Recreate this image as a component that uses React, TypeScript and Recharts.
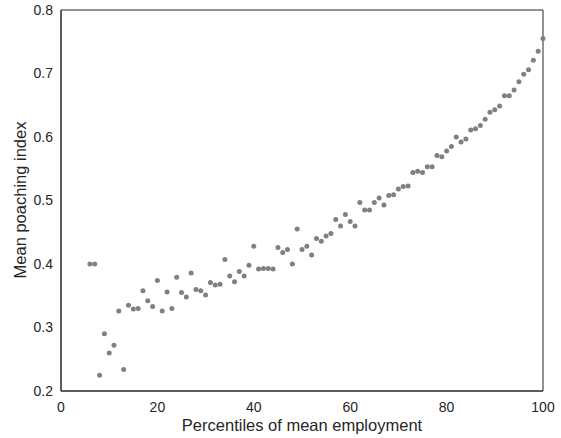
import { ScatterChart, Scatter, XAxis, YAxis, Label } from 'recharts'

const percentiles = [
  6, 7, 8, 9, 10, 11, 12, 13, 14, 15, 16, 17, 18, 19, 20, 21, 22, 23, 24, 25,
  26, 27, 28, 29, 30, 31, 32, 33, 34, 35, 36, 37, 38, 39, 40, 41, 42, 43, 44, 45,
  46, 47, 48, 49, 50, 51, 52, 53, 54, 55, 56, 57, 58, 59, 60, 61, 62, 63, 64, 65,
  66, 67, 68, 69, 70, 71, 72, 73, 74, 75, 76, 77, 78, 79, 80, 81, 82, 83, 84, 85,
  86, 87, 88, 89, 90, 91, 92, 93, 94, 95, 96, 97, 98, 99, 100,
]

const poachingIndex = [
  0.4, 0.4, 0.225, 0.29, 0.26, 0.272, 0.326, 0.234, 0.335, 0.329, 0.33, 0.358, 0.342, 0.333, 0.374, 0.326, 0.356, 0.33, 0.379, 0.355,
  0.348, 0.386, 0.36, 0.358, 0.351, 0.371, 0.367, 0.368, 0.407, 0.381, 0.372, 0.388, 0.381, 0.398, 0.428, 0.392, 0.393, 0.393, 0.392, 0.426,
  0.418, 0.423, 0.4, 0.455, 0.423, 0.428, 0.414, 0.44, 0.436, 0.444, 0.448, 0.47, 0.46, 0.478, 0.467, 0.46, 0.497, 0.485, 0.485, 0.497,
  0.504, 0.493, 0.508, 0.509, 0.518, 0.522, 0.523, 0.544, 0.546, 0.544, 0.553, 0.553, 0.571, 0.569, 0.578, 0.585, 0.6, 0.592, 0.597, 0.611,
  0.613, 0.618, 0.628, 0.639, 0.643, 0.649, 0.665, 0.665, 0.674, 0.687, 0.699, 0.706, 0.721, 0.735, 0.755,
]

const xTicks = [0, 20, 40, 60, 80, 100]
const yTicks = [0.2, 0.3, 0.4, 0.5, 0.6, 0.7, 0.8]

const axisColor = '#262626'
const font = '"Liberation Sans", Arial, Helvetica, sans-serif'

export default function App() {
  const data = percentiles.map((p, i) => ({ x: p, y: poachingIndex[i] }))

  return (
    <div style={{ position: 'absolute', left: 0, top: 0, background: '#fff', fontFamily: font }}>
      <ScatterChart width={561} height={438} margin={{ top: 10, right: 18, left: 11, bottom: 7 }}>
        <XAxis
          xAxisId="main"
          dataKey="x"
          type="number"
          domain={[0, 100]}
          ticks={xTicks}
          tickLine={false}
          tickSize={0}
          tickMargin={11}
          height={40}
          stroke={axisColor}
          tick={{ fill: axisColor, fontSize: 14, fontFamily: font }}
        >
          <Label
            content={() => (
              <text x={302} y={431} textAnchor="middle" fill={axisColor} fontSize={16.5} fontFamily={font}>
                Percentiles of mean employment
              </text>
            )}
          />
        </XAxis>
        <XAxis
          xAxisId="bottomTicks"
          type="number"
          domain={[0, 100]}
          ticks={xTicks}
          orientation="bottom"
          mirror
          tick={false}
          tickSize={5}
          stroke={axisColor}
        />
        <XAxis
          xAxisId="top"
          type="number"
          domain={[0, 100]}
          ticks={xTicks}
          orientation="top"
          mirror
          tick={false}
          tickSize={5}
          stroke={axisColor}
        />
        <YAxis
          yAxisId="main"
          dataKey="y"
          type="number"
          domain={[0.2, 0.8]}
          ticks={yTicks}
          tickLine={false}
          tickSize={0}
          tickMargin={8}
          width={50}
          stroke={axisColor}
          tick={{ fill: axisColor, fontSize: 14, fontFamily: font }}
        >
          <Label
            content={() => (
              <text
                x={26}
                y={200}
                transform="rotate(-90 26 200)"
                textAnchor="middle"
                fill={axisColor}
                fontSize={16.5}
                fontFamily={font}
              >
                Mean poaching index
              </text>
            )}
          />
        </YAxis>
        <YAxis
          yAxisId="leftTicks"
          type="number"
          domain={[0.2, 0.8]}
          ticks={yTicks}
          orientation="left"
          mirror
          tick={false}
          tickSize={5}
          stroke={axisColor}
        />
        <YAxis
          yAxisId="right"
          type="number"
          domain={[0.2, 0.8]}
          ticks={yTicks}
          orientation="right"
          mirror
          tick={false}
          tickSize={5}
          stroke={axisColor}
        />
        <Scatter
          xAxisId="main"
          yAxisId="main"
          data={data}
          isAnimationActive={false}
          shape={(p: any) => <circle cx={p.cx} cy={p.cy} r={2.5} fill="#808080" />}
        />
      </ScatterChart>
    </div>
  )
}
